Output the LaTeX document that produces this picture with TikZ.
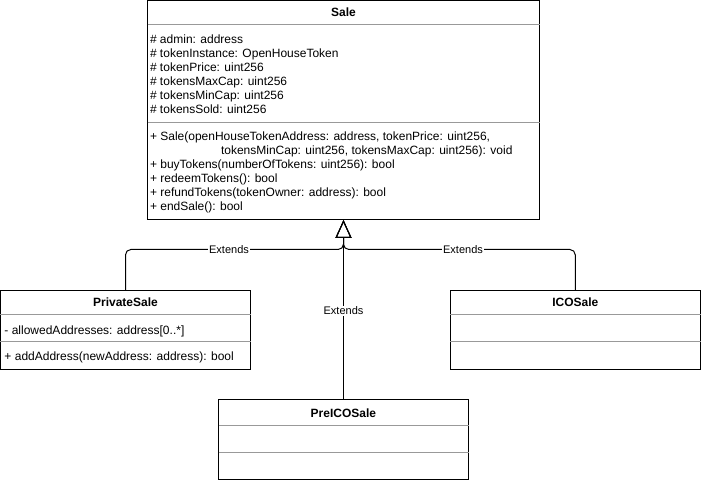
\documentclass[tikz,border=0pt]{standalone}
\usepackage{fontspec}
\setmainfont{Liberation Sans}
\usetikzlibrary{arrows.meta}
\begin{document}
\begin{tikzpicture}[x=0.75pt,y=-0.75pt,
 every node/.style={inner sep=0pt, outer sep=0pt},
 classbox/.style={draw=black, line width=0.75pt, anchor=north west, fill=white},
 sepline/.style={draw=black!40, line width=0.75pt},
 title/.style={anchor=base, font=\fontsize{9}{10.5}\selectfont\bfseries},
 member/.style={anchor=base west, font=\fontsize{9}{10.5}\selectfont},
 extlabel/.style={fill=white, font=\fontsize{8.25}{10}\selectfont, inner sep=0.8pt},
 extends/.style={draw=black, line width=0.75pt, rounded corners=4pt,
   -{Triangle[open, width=12pt, length=13.5pt]}},
]
\useasboundingbox (0,0) rectangle (701,481);

% class boxes
\node[classbox, minimum width=294pt, minimum height=164.25pt] (sale) at (147.5,1) {};
\node[classbox, minimum width=187.5pt, minimum height=59.6pt] (ps) at (0.5,290.5) {};
\node[classbox, minimum width=187.9pt, minimum height=59.6pt] (ico) at (450,290.5) {};
\node[classbox, minimum width=187.5pt, minimum height=60pt] (pre) at (218.5,400) {};

% separators
\draw[sepline] (sale.west |- 0,25) -- (sale.east |- 0,25);
\draw[sepline] (sale.west |- 0,122.5) -- (sale.east |- 0,122.5);
\draw[sepline] (ps.west |- 0,315) -- (ps.east |- 0,315);
\draw[sepline] (ps.west |- 0,342) -- (ps.east |- 0,342);
\draw[sepline] (ico.west |- 0,315) -- (ico.east |- 0,315);
\draw[sepline] (ico.west |- 0,342) -- (ico.east |- 0,342);
\draw[sepline] (pre.west |- 0,425.5) -- (pre.east |- 0,425.5);
\draw[sepline] (pre.west |- 0,452.5) -- (pre.east |- 0,452.5);

% titles
\node[title] (tsale) at (343.5,17) {Sale};
\node[title] (tps) at (125.5,306.6) {PrivateSale};
\node[title] (tico) at (575.3,306.6) {ICOSale};
\node[title] (tpre) at (343.4,417.6) {PreICOSale};

% Sale members
\node[member] (a1) at (150,43.5) {\# admin: address};
\node[member] (a2) at (150,57.5) {\# tokenInstance: OpenHouseToken};
\node[member] (a3) at (150,71.5) {\# tokenPrice: uint256};
\node[member] (a4) at (150,85.5) {\# tokensMaxCap: uint256};
\node[member] (a5) at (150,99.5) {\# tokensMinCap: uint256};
\node[member] (a6) at (150,113.5) {\# tokensSold: uint256};
\node[member] (m1) at (150,141) {+ Sale(openHouseTokenAddress: address, tokenPrice: uint256,};
\node[member] (m1b) at (221,155) {tokensMinCap: uint256, tokensMaxCap: uint256): void};
\node[member] (m2) at (150,169) {+ buyTokens(numberOfTokens: uint256): bool};
\node[member] (m3) at (150,183) {+ redeemTokens(): bool};
\node[member] (m4) at (150,197) {+ refundTokens(tokenOwner: address): bool};
\node[member] (m5) at (150,211) {+ endSale(): bool};

% PrivateSale members
\node[member] (pa1) at (4.5,334.3) {- allowedAddresses: address[0..*]};
\node[member] (pm1) at (4.5,360.3) {+ addAddress(newAddress: address): bool};

% connectors
\coordinate (jn) at (343.5,249.5);
\draw[extends] (pre.north) -- (sale.south);
\draw[extends] (ps.north) |- (jn) -- (sale.south);
\draw[extends] (ico.north) |- (jn) -- (sale.south);

\node[extlabel] (l1) at (229,249.8) {Extends};
\node[extlabel] (l2) at (463,249.8) {Extends};
\node[extlabel] (l3) at (343.5,311) {Extends};
\end{tikzpicture}
\end{document}
